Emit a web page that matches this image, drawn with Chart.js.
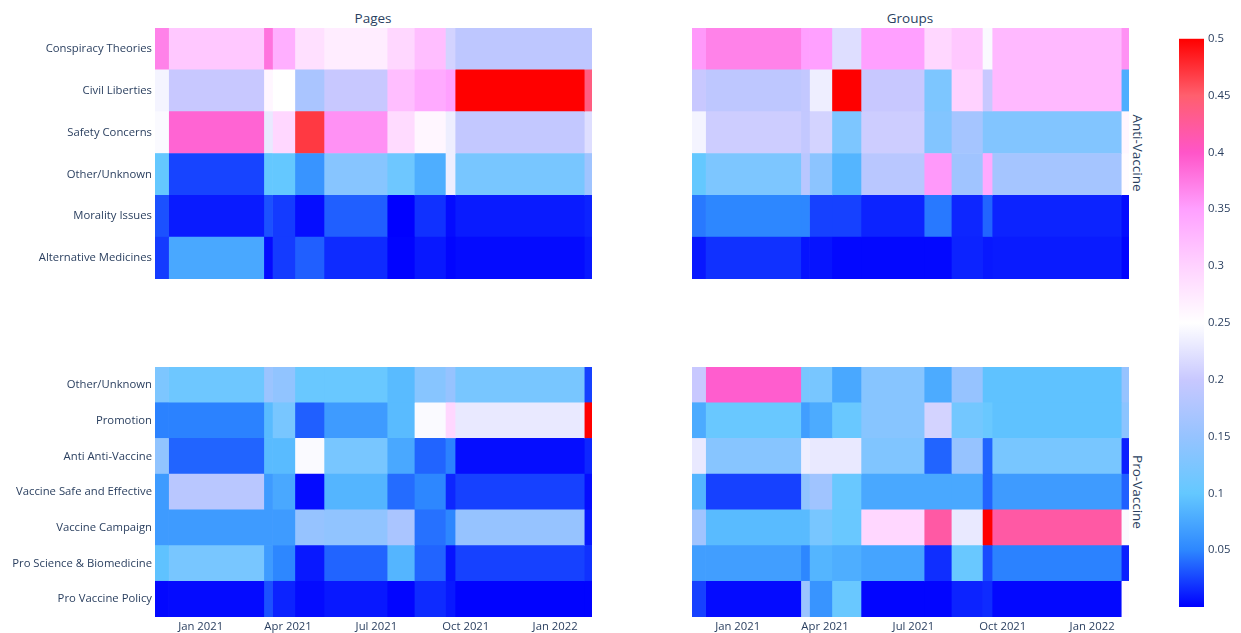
<!DOCTYPE html>
<html>
<head>
<meta charset="utf-8">
<script src="https://cdn.jsdelivr.net/npm/chart.js@4.4.0/dist/chart.umd.min.js"></script>
<style>
  body { margin: 0; background: #fff; font-family: "Open Sans", sans-serif; }
  #wrap { position: relative; width: 1241px; height: 633px; overflow: hidden; }
  .box { position: absolute; }
  .title { position: absolute; font-size: 13.5px; color: #2a3f5f; transform: translate(-50%, -50%); }
  .side { position: absolute; font-size: 13.5px; color: #2a3f5f; transform: translate(-50%, -50%) rotate(90deg); white-space: nowrap; }
</style>
</head>
<body>
<div id="wrap">
  <div class="title" style="left:373px; top:18px;">Pages</div>
  <div class="title" style="left:910px; top:18px;">Groups</div>
  <div class="side" style="left:1138px; top:153px;">Anti-Vaccine</div>
  <div class="side" style="left:1138px; top:492px;">Pro-Vaccine</div>
  <div class="box" style="left:0; top:28px; width:592px; height:251px;"><canvas id="pagesAntiChart"></canvas></div>
  <div class="box" style="left:692px; top:28px; width:437px; height:251px;"><canvas id="groupsAntiChart"></canvas></div>
  <div class="box" style="left:0; top:367px; width:592px; height:266px;"><canvas id="pagesProChart"></canvas></div>
  <div class="box" style="left:692px; top:367px; width:437px; height:266px;"><canvas id="groupsProChart"></canvas></div>
  <div class="box" style="left:1170px; top:28px; width:71px; height:600px;"><canvas id="colorbarChart"></canvas></div>
</div>
<script>
// period boundaries (each cell spans edge[i] .. edge[i+1])
const periodEdges = ['2020-11-15', '2020-11-29', '2021-03-07', '2021-03-16', '2021-04-08', '2021-05-08',
  '2021-07-12', '2021-08-09', '2021-09-10', '2021-09-20', '2022-01-31', '2022-02-08'];
const xTickDates = ['2021-01-01', '2021-04-01', '2021-07-01', '2021-10-01', '2022-01-01'];
const monthNames = ['Jan', 'Feb', 'Mar', 'Apr', 'May', 'Jun', 'Jul', 'Aug', 'Sep', 'Oct', 'Nov', 'Dec'];

const antiTopics = ['Conspiracy Theories', 'Civil Liberties', 'Safety Concerns', 'Other/Unknown', 'Morality Issues', 'Alternative Medicines'];
const proTopics = ['Other/Unknown', 'Promotion', 'Anti Anti-Vaccine', 'Vaccine Safe and Effective', 'Vaccine Campaign', 'Pro Science & Biomedicine', 'Pro Vaccine Policy'];

// share of posts per topic and period
const pagesAnti = [
  [0.37, 0.31, 0.38, 0.335, 0.285, 0.27, 0.295, 0.32, 0.21, 0.19, 0.19],
  [0.24, 0.2, 0.26, 0.25, 0.17, 0.2, 0.32, 0.34, 0.35, 0.5, 0.44],
  [0.245, 0.39, 0.23, 0.295, 0.47, 0.36, 0.29, 0.26, 0.235, 0.195, 0.22],
  [0.1, 0.025, 0.1, 0.1, 0.06, 0.135, 0.11, 0.08, 0.235, 0.12, 0.16],
  [0.03, 0.01, 0.03, 0.022, 0.005, 0.035, 0.0, 0.018, 0.004, 0.01, 0.013],
  [0.022, 0.075, 0.004, 0.022, 0.035, 0.016, 0.001, 0.009, 0.002, 0.004, 0.009]
];
const groupsAnti = [
  [0.355, 0.37, 0.35, 0.35, 0.22, 0.35, 0.295, 0.31, 0.245, 0.325, 0.36],
  [0.2, 0.19, 0.195, 0.235, 0.5, 0.2, 0.125, 0.3, 0.2, 0.325, 0.08],
  [0.24, 0.205, 0.195, 0.21, 0.125, 0.205, 0.13, 0.165, 0.13, 0.13, 0.26],
  [0.1, 0.125, 0.185, 0.14, 0.085, 0.185, 0.355, 0.16, 0.34, 0.165, 0.255],
  [0.045, 0.05, 0.05, 0.024, 0.024, 0.013, 0.045, 0.014, 0.037, 0.013, 0.004],
  [0.009, 0.018, 0.007, 0.007, 0.003, 0.003, 0.003, 0.013, 0.009, 0.01, 0.001]
];
const pagesPro = [
  [0.125, 0.11, 0.155, 0.145, 0.105, 0.105, 0.09, 0.135, 0.15, 0.12, 0.024],
  [0.048, 0.048, 0.09, 0.12, 0.035, 0.065, 0.09, 0.245, 0.295, 0.23, 0.5],
  [0.145, 0.037, 0.09, 0.09, 0.245, 0.12, 0.075, 0.037, 0.048, 0.005, 0.014],
  [0.065, 0.185, 0.065, 0.075, 0.004, 0.085, 0.04, 0.05, 0.014, 0.024, 0.005],
  [0.065, 0.065, 0.065, 0.065, 0.15, 0.145, 0.17, 0.042, 0.05, 0.15, 0.009],
  [0.095, 0.12, 0.065, 0.05, 0.009, 0.037, 0.085, 0.037, 0.007, 0.024, 0.018],
  [0.003, 0.004, 0.03, 0.013, 0.004, 0.009, 0.002, 0.016, 0.009, 0.001, 0.001]
];
const groupsPro = [
  [0.2, 0.395, 0.12, 0.12, 0.075, 0.135, 0.078, 0.15, 0.095, 0.095, 0.15],
  [0.078, 0.105, 0.068, 0.078, 0.105, 0.135, 0.21, 0.115, 0.105, 0.095, 0.14],
  [0.23, 0.135, 0.235, 0.23, 0.23, 0.128, 0.037, 0.15, 0.037, 0.12, 0.012],
  [0.085, 0.024, 0.145, 0.16, 0.105, 0.075, 0.075, 0.075, 0.037, 0.065, 0.035],
  [0.16, 0.09, 0.09, 0.12, 0.105, 0.295, 0.42, 0.23, 0.5, 0.42, 0.245],
  [0.068, 0.068, 0.05, 0.085, 0.08, 0.072, 0.017, 0.105, 0.028, 0.048, 0.012],
  [0.024, 0.004, 0.155, 0.06, 0.105, 0.002, 0.002, 0.013, 0.016, 0.003, 0.255]
];

const zMax = 0.5;
const colorStops = [
  [0.0, [0, 0, 255]], [0.1, [45, 135, 255]], [0.2, [100, 200, 255]], [0.3, [150, 195, 255]],
  [0.4, [200, 200, 255]], [0.5, [255, 255, 255]], [0.6, [255, 210, 255]], [0.7, [255, 160, 255]],
  [0.8, [255, 85, 200]], [0.9, [255, 95, 110]], [1.0, [255, 0, 0]]
];

function colorFor(v) {
  const t = Math.max(0, Math.min(1, v / zMax));
  for (let i = 1; i < colorStops.length; i++) {
    if (t <= colorStops[i][0]) {
      const [t0, c0] = colorStops[i - 1];
      const [t1, c1] = colorStops[i];
      const f = (t - t0) / (t1 - t0);
      const c = c0.map((a, k) => Math.round(a + (c1[k] - a) * f));
      return `rgb(${c[0]},${c[1]},${c[2]})`;
    }
  }
  return 'rgb(255,0,0)';
}

const toMs = s => { const p = s.split('-'); return Date.UTC(+p[0], +p[1] - 1, +p[2]); };
const edgeMs = periodEdges.map(toMs);
const tickMs = xTickDates.map(toMs);
const textColor = '#2a3f5f';
Chart.defaults.font.family = '"Open Sans", sans-serif';
Chart.defaults.font.size = 11.3;
Chart.defaults.color = textColor;

function heatChart(id, rows, values, showY, showX) {
  const datasets = edgeMs.slice(0, -1).map((start, c) => ({
    data: rows.map(() => [start, edgeMs[c + 1]]),
    backgroundColor: values.map(r => colorFor(r[c])),
    borderWidth: 0,
    barPercentage: 1,
    categoryPercentage: 1,
    grouped: false
  }));
  return new Chart(document.getElementById(id), {
    type: 'bar',
    data: { labels: rows, datasets: datasets },
    options: {
      indexAxis: 'y',
      responsive: true,
      maintainAspectRatio: false,
      animation: false,
      layout: { padding: 0 },
      plugins: { legend: { display: false }, tooltip: { enabled: false } },
      scales: {
        x: {
          type: 'linear',
          min: edgeMs[0],
          max: edgeMs[edgeMs.length - 1],
          display: showX,
          grid: { display: false, drawTicks: false },
          border: { display: false },
          afterBuildTicks: scale => { scale.ticks = tickMs.map(v => ({ value: v })); },
          afterFit: scale => { if (showX) scale.height = 16; },
          ticks: {
            autoSkip: false,
            maxRotation: 0,
            padding: 3,
            callback: v => { const d = new Date(v); return monthNames[d.getUTCMonth()] + ' ' + d.getUTCFullYear(); }
          }
        },
        y: {
          display: showY,
          grid: { display: false, drawTicks: false },
          border: { display: false },
          afterFit: scale => {
            if (showY) scale.width = 155;
            scale.paddingTop = 0;
            scale.paddingBottom = 0;
          },
          ticks: { padding: 3 }
        }
      }
    }
  });
}

const pagesAntiChart = heatChart('pagesAntiChart', antiTopics, pagesAnti, true, false);
const groupsAntiChart = heatChart('groupsAntiChart', antiTopics, groupsAnti, false, false);
const pagesProChart = heatChart('pagesProChart', proTopics, pagesPro, true, true);
const groupsProChart = heatChart('groupsProChart', proTopics, groupsPro, false, true);

// Colorbar
const gradientPlugin = {
  id: 'gradientBar',
  beforeDatasetsDraw(chart) {
    const { ctx, chartArea: a } = chart;
    const g = ctx.createLinearGradient(0, a.bottom, 0, a.top);
    colorStops.forEach(([t, c]) => g.addColorStop(t, `rgb(${c[0]},${c[1]},${c[2]})`));
    ctx.save();
    ctx.fillStyle = g;
    ctx.fillRect(a.left, a.top, a.right - a.left, a.bottom - a.top);
    ctx.restore();
  }
};

const colorbarChart = new Chart(document.getElementById('colorbarChart'), {
  type: 'bar',
  data: { labels: [''], datasets: [{ data: [] }] },
  options: {
    responsive: true,
    maintainAspectRatio: false,
    animation: false,
    layout: { padding: { left: 9, top: 9, bottom: 21, right: 0 } },
    plugins: { legend: { display: false }, tooltip: { enabled: false } },
    scales: {
      x: { display: false },
      y: {
        position: 'right',
        min: 0,
        max: zMax,
        grid: { display: false, drawTicks: false },
        border: { display: false },
        afterFit: scale => { scale.width = 37; },
        ticks: {
          stepSize: 0.05,
          padding: 4,
          callback: v => v === 0 ? '' : String(parseFloat(v.toFixed(2)))
        }
      }
    }
  },
  plugins: [gradientPlugin]
});
</script>
</body>
</html>
